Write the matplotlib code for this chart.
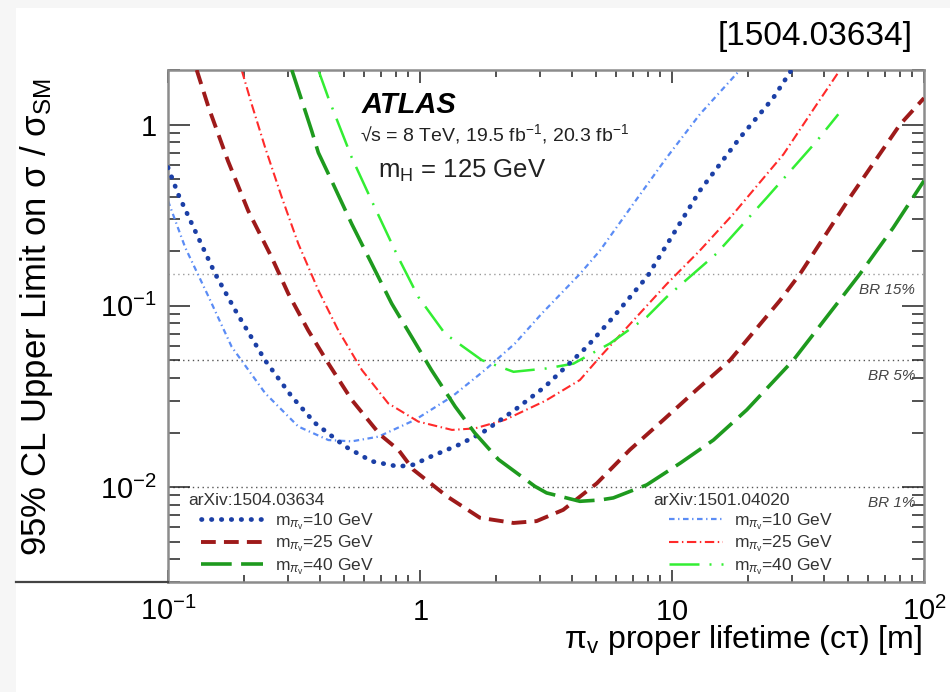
import matplotlib
matplotlib.use("Agg")
import matplotlib.pyplot as plt
from matplotlib.lines import Line2D
from matplotlib.patches import Rectangle
from matplotlib.legend_handler import HandlerLine2D
from matplotlib.ticker import LogLocator, NullFormatter

plt.rcParams['font.family'] = ['Liberation Sans', 'DejaVu Sans']
plt.rcParams['mathtext.fontset'] = 'custom'
plt.rcParams['mathtext.rm'] = 'Liberation Sans'
plt.rcParams['mathtext.it'] = 'Liberation Sans:italic'
plt.rcParams['mathtext.bf'] = 'Liberation Sans:bold'
plt.rcParams['mathtext.sf'] = 'Liberation Sans'

# ---------------- data ----------------
# arXiv:1504.03634
ctau_1504_m10 = [0.1, 0.11, 0.128, 0.154, 0.185, 0.243, 0.31, 0.383, 0.504, 0.643, 0.82, 0.94,
                 1.11, 1.42, 1.76, 2.38, 3.13, 4.59, 5.85, 8.0, 12.9, 18.6, 25.2, 29.8]
lim_1504_m10 = [0.58, 0.41, 0.26, 0.15, 0.0945, 0.050, 0.0316, 0.0226, 0.0168, 0.0139, 0.0130, 0.0133,
                0.0148, 0.0171, 0.0199, 0.0267, 0.0358, 0.0594, 0.0868, 0.146, 0.432, 0.846, 1.40, 2.0]

ctau_1504_m25 = [0.130, 0.145, 0.173, 0.208, 0.258, 0.30, 0.36, 0.433, 0.536, 0.694, 0.82, 0.94,
                 1.28, 1.73, 2.35, 2.9, 3.7, 5.03, 6.81, 9.24, 12.5, 17.0, 26.8, 32.2, 50.8, 80.3, 100]
lim_1504_m25 = [2.0, 1.24, 0.63, 0.335, 0.185, 0.117, 0.0733, 0.0481, 0.0303, 0.0195, 0.0161, 0.0125,
                0.0089, 0.00678, 0.00635, 0.0065, 0.0075, 0.0105, 0.0161, 0.0235, 0.0344, 0.0502, 0.107,
                0.150, 0.396, 1.0, 1.40]

ctau_1504_m40 = [0.31, 0.34, 0.372, 0.395, 0.446, 0.536, 0.643, 0.772, 0.927, 1.11, 1.38, 1.65, 2.05,
                 2.86, 3.18, 4.31, 5.18, 5.85, 7.94, 10.8, 14.6, 19.8, 30.3, 55.7, 75.5, 100]
lim_1504_m40 = [2.0, 1.35, 0.92, 0.70, 0.49, 0.283, 0.171, 0.103, 0.0674, 0.0443, 0.0278, 0.0199, 0.0142,
                0.0101, 0.0093, 0.00836, 0.0085, 0.00873, 0.0103, 0.0136, 0.0182, 0.0267, 0.0502, 0.150,
                0.27, 0.49]

# arXiv:1501.04020
ctau_1501_m10 = [0.1, 0.117, 0.145, 0.179, 0.243, 0.329, 0.433, 0.536, 0.684, 0.955, 1.34, 1.81, 2.38,
                 3.04, 4.31, 5.18, 7.02, 9.53, 12.9, 18.6]
lim_1501_m10 = [0.38, 0.21, 0.112, 0.0594, 0.033, 0.0216, 0.0182, 0.0179, 0.019, 0.0235, 0.0316, 0.0443,
                0.062, 0.0906, 0.150, 0.202, 0.365, 0.658, 1.14, 2.0]

ctau_1501_m25 = [0.196, 0.215, 0.243, 0.283, 0.329, 0.395, 0.474, 0.588, 0.748, 0.985, 1.34, 1.65, 2.17,
                 3.15, 4.31, 5.18, 7.02, 9.53, 12.9, 17.5, 27.7, 37.5, 46.4]
lim_1501_m25 = [2.0, 1.29, 0.746, 0.396, 0.22, 0.122, 0.0733, 0.0443, 0.029, 0.023, 0.0207, 0.0211, 0.0235,
                0.030, 0.039, 0.0523, 0.083, 0.132, 0.202, 0.321, 0.686, 1.29, 2.0]

ctau_1501_m40 = [0.395, 0.433, 0.536, 0.643, 0.82, 0.985, 1.256, 1.76, 2.35, 3.18, 4.06, 5.67, 7.94, 9.53,
                 15.0, 23.8, 37.5, 45.7]
lim_1501_m40 = [2.0, 1.40, 0.658, 0.38, 0.185, 0.112, 0.0703, 0.0502, 0.0433, 0.0452, 0.048, 0.062, 0.0868,
                0.112, 0.194, 0.396, 0.81, 1.14]

x_ticks = [0.1, 1, 10, 100]
x_tick_labels = [r'$10^{-1}$', r'$1$', r'$10$', r'$10^{2}$']
y_ticks = [0.01, 0.1, 1]
y_tick_labels = [r'$10^{-2}$', r'$10^{-1}$', r'$1$']

br_values = [0.15, 0.05, 0.01]
br_labels = ['BR 15%', 'BR 5%', 'BR 1%']

legend_titles = ['arXiv:1504.03634', 'arXiv:1501.04020']
mass_labels_1504 = [r'm$_{\pi_{\rm v}}$=10 GeV', r'm$_{\pi_{\rm v}}$=25 GeV', r'm$_{\pi_{\rm v}}$=40 GeV']
mass_labels_1501 = [r'm$_{\pi_{\rm v}}$=10 GeV', r'm$_{\pi_{\rm v}}$=25 GeV', r'm$_{\pi_{\rm v}}$=40 GeV']

# ---------------- figure ----------------
W, H = 950, 692
fig = plt.figure(figsize=(W / 100, H / 100), dpi=100)
fig.patch.set_facecolor('white')
# screenshot margins
fig.patches.append(Rectangle((0, 0), 16 / W, 1, transform=fig.transFigure,
                             facecolor='#f6f6f6', edgecolor='none', zorder=-10))
fig.patches.append(Rectangle((0, 1 - 8 / H), 1, 8 / H, transform=fig.transFigure,
                             facecolor='#f6f6f6', edgecolor='none', zorder=-10))
fig.lines.append(Line2D([16 / W, 168 / W], [1 - 582 / H, 1 - 582 / H], transform=fig.transFigure,
                        color='#444444', lw=1.6))

ax = fig.add_axes([168 / W, 1 - 582 / H, 756 / W, 512 / H])
ax.set_xscale('log')
ax.set_yscale('log')
ax.set_xlim(0.1, 100)
ax.set_ylim(0.003, 2.0)

# BR reference lines
br_colors = ['#9a9a9a', '#555555', '#555555']
for v, lab, c in zip(br_values, br_labels, br_colors):
    ax.axhline(v, color=c, lw=1.0, ls=(0, (1, 2.5)), zorder=1)
    ax.annotate(lab, xy=(0.988, v), xycoords=('axes fraction', 'data'),
                xytext=(0, -11.5), textcoords='offset points',
                ha='right', va='center', fontsize=11, style='italic', color='#444444')

# curves
c_dblue, c_lblue = '#1b3fa6', '#5b8cf5'
c_dred, c_red = '#9e1a1a', '#ff2a2a'
c_dgreen, c_lgreen = '#1e9a1e', '#33ee33'

l1, = ax.plot(ctau_1504_m10, lim_1504_m10, color=c_dblue, lw=3.4,
              ls=(0, (0.1, 2.0)), dash_capstyle='round', zorder=3)
l2, = ax.plot(ctau_1504_m25, lim_1504_m25, color=c_dred, lw=2.8,
              ls=(0, (3.8, 2.1)), zorder=3)
l3, = ax.plot(ctau_1504_m40, lim_1504_m40, color=c_dgreen, lw=2.6,
              ls=(0, (8.5, 2.6)), zorder=3)

m1, = ax.plot(ctau_1501_m10, lim_1501_m10, color=c_lblue, lw=1.6,
              ls=(0, (2.5, 1.6, 0.6, 1.6)), zorder=2)
m2, = ax.plot(ctau_1501_m25, lim_1501_m25, color=c_red, lw=1.5,
              ls=(0, (4.5, 1.7, 0.7, 1.7)), zorder=2)
m3, = ax.plot(ctau_1501_m40, lim_1501_m40, color=c_lgreen, lw=1.8,
              ls=(0, (12, 4, 0.8, 4)), zorder=2)

# legends (header drawn as a separate text line above each legend)
leg_kw = dict(frameon=False, fontsize=12.5, borderpad=0, borderaxespad=0,
              labelspacing=0.1, loc='upper left')
leg1 = ax.legend([l1, l2, l3], mass_labels_1504,
                 bbox_to_anchor=(0.027, 0.138), handlelength=4.3, handletextpad=0.68,
                 handler_map={Line2D: HandlerLine2D(xpad=0.7)}, **leg_kw)
ax.add_artist(leg1)
leg2 = ax.legend([m1, m2, m3], mass_labels_1501,
                 bbox_to_anchor=(0.642, 0.138), handlelength=4.0, handletextpad=0.63,
                 handler_map={Line2D: HandlerLine2D(xpad=0.9)}, **leg_kw)
for lg in (leg1, leg2):
    for t in lg.get_texts():
        t.set_color('#333333')
for xpos, title in zip([0.027, 0.642], legend_titles):
    ax.text(xpos, 0.159, title, transform=ax.transAxes, fontsize=12.5, color='#333333',
            ha='left', va='center')

# ticks
ax.set_xticks(x_ticks, x_tick_labels)
ax.xaxis.set_minor_locator(LogLocator(base=10, subs=range(2, 10)))
ax.xaxis.set_minor_formatter(NullFormatter())
ax.set_yticks(y_ticks, y_tick_labels)
ax.yaxis.set_minor_locator(LogLocator(base=10, subs=range(2, 10)))
ax.yaxis.set_minor_formatter(NullFormatter())

ax.tick_params(which='both', direction='in', top=True, right=True, color='#222222', width=1.1)
ax.tick_params(axis='x', which='major', length=9, labelsize=21, pad=27)
ax.tick_params(axis='x', which='minor', length=5)
ax.tick_params(axis='y', which='major', length=15.5, labelsize=21, pad=8)
ax.tick_params(axis='y', which='minor', length=8.5)
for t in ax.xaxis.get_major_ticks():
    t.label1.set_verticalalignment('baseline')

for s in ax.spines.values():
    s.set_color('#8c8c8c')
    s.set_linewidth(1.8)

# axis labels
ax.set_xlabel('\u03c0$_{\\rm v}$ proper lifetime (c\u03c4) [m]', fontsize=23, ha='right')
ax.xaxis.set_label_coords(0.997, -0.08)
ax.set_ylabel('95% CL Upper Limit on \u03c3 / \u03c3$_{\\rm SM}$', fontsize=25)
ax.yaxis.set_label_coords(-0.15, 0.517)

# annotations
ax.text(0.2566, 0.916, 'ATLAS', transform=ax.transAxes, fontsize=21, fontweight='bold',
        style='italic', va='baseline', ha='left')
ax.text(0.254, 0.862, '\u221as = 8 TeV, 19.5 fb$^{-1}$, 20.3 fb$^{-1}$', transform=ax.transAxes,
        fontsize=14, va='baseline', ha='left', color='#222222')
ax.text(0.278, 0.7885, r'm$_{\rm H}$ = 125 GeV', transform=ax.transAxes, fontsize=18.5,
        va='baseline', ha='left', color='#222222')

fig.text(913 / W, 1 - 37 / H, '[1504.03634]', fontsize=24, ha='right', va='center')

fig.savefig('out.png', dpi=100, facecolor=fig.get_facecolor())
